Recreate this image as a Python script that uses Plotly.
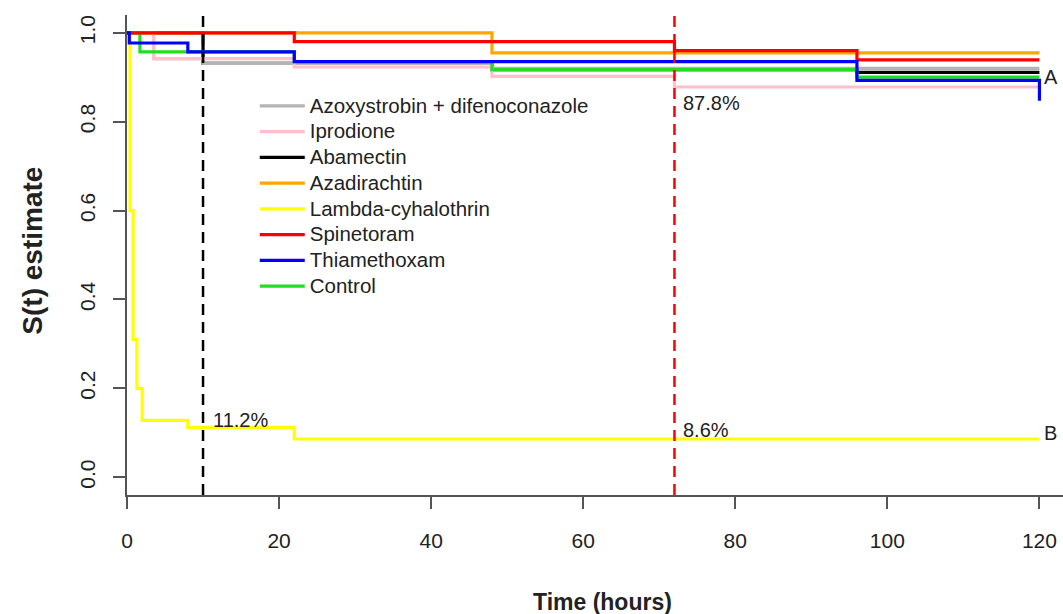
import plotly.graph_objects as go

# ---- data ----
treatments = ["Azoxystrobin + difenoconazole", "Iprodione", "Abamectin", "Azadirachtin",
              "Lambda-cyhalothrin", "Spinetoram", "Thiamethoxam", "Control"]
colors = ["#b4b4b4", "#ffc0cb", "#000000", "#ffa500", "#ffff00", "#ff0000", "#0000ff", "#22dd22"]

azoxy_t = [0, 3.5, 10, 48, 120]
azoxy_s = [1.0, 0.942, 0.931, 0.920, 0.920]
iprod_t = [0, 3.5, 22, 48, 72, 120]
iprod_s = [1.0, 0.942, 0.923, 0.902, 0.878, 0.878]
abam_t = [0, 10, 48, 96, 120]
abam_s = [1.0, 0.931, 0.917, 0.911, 0.911]
azad_t = [0, 48, 120]
azad_s = [1.0, 0.955, 0.955]
lambda_t = [0, 0.4, 0.8, 1.3, 2, 8, 22, 120]
lambda_s = [1.0, 0.60, 0.31, 0.20, 0.128, 0.112, 0.086, 0.086]
spine_t = [0, 22, 72, 96, 120]
spine_s = [1.0, 0.980, 0.960, 0.939, 0.939]
thia_t = [0, 0.3, 8, 22, 96, 120]
thia_s = [1.0, 0.977, 0.957, 0.935, 0.893, 0.847]
ctrl_t = [0, 1.7, 22, 48, 96, 120]
ctrl_s = [1.0, 0.957, 0.935, 0.917, 0.900, 0.900]

series = [(azoxy_t, azoxy_s), (iprod_t, iprod_s), (abam_t, abam_s), (azad_t, azad_s),
          (lambda_t, lambda_s), (spine_t, spine_s), (thia_t, thia_s), (ctrl_t, ctrl_s)]

# drawing order (bottom to top), legend order kept by legendrank
draw_order = [2, 0, 1, 3, 4, 7, 5, 6]

ref_times = [10, 72]
ref_colors = ["#000000", "#ff0000"]

pct_labels = ["11.2%", "8.6%", "87.8%"]
pct_x = [11.0, 72.9, 72.9]
pct_y = [0.128, 0.106, 0.842]

group_labels = ["A", "B"]
group_y = [0.90, 0.100]

x_ticks = [0, 20, 40, 60, 80, 100, 120]
y_ticks = [0.0, 0.2, 0.4, 0.6, 0.8, 1.0]

TXT = "#222222"
FONT = "Liberation Sans, Arial, sans-serif"

fig = go.Figure()
for i in draw_order:
    t, s = series[i]
    fig.add_trace(go.Scatter(
        x=t, y=s, mode="lines", legendrank=i + 1,
        name=f'<span style="font-size:20.5px">{treatments[i]}</span>',
        line=dict(shape="hv", color=colors[i], width=3.2),
    ))

for t, c in zip(ref_times, ref_colors):
    fig.add_shape(type="line", xref="x", yref="paper", x0=t, x1=t, y0=0, y1=1,
                  line=dict(color=c, width=2.5, dash="11px,7px"), layer="above")

for lab, x, y in zip(pct_labels, pct_x, pct_y):
    fig.add_annotation(x=x, y=y, text=lab, showarrow=False, xanchor="left", yanchor="middle",
                       font=dict(size=20, color=TXT, family=FONT))

for lab, y in zip(group_labels, group_y):
    fig.add_annotation(x=120.3, y=y, text=lab, showarrow=False, xanchor="left", yanchor="middle",
                       font=dict(size=20, color=TXT, family=FONT))

fig.add_annotation(xref="paper", yref="paper", x=0.508, y=-0.222, text="<b>Time (hours)</b>",
                   showarrow=False, xanchor="center", yanchor="middle",
                   font=dict(size=23, color=TXT, family=FONT))
fig.add_annotation(xref="paper", yref="paper", x=-0.101, y=0.51, text="<b>S(t) estimate</b>",
                   showarrow=False, xanchor="center", yanchor="middle", textangle=-90,
                   font=dict(size=28, color=TXT, family=FONT))

fig.update_layout(
    width=1063, height=614,
    margin=dict(l=127, r=0, t=15, b=119, pad=0),
    plot_bgcolor="white", paper_bgcolor="white",
    font=dict(family=FONT, color=TXT, size=18),
    showlegend=True,
    legend=dict(x=0.1365, y=0.848, xanchor="left", yanchor="top", bgcolor="rgba(0,0,0,0)",
                borderwidth=0, itemwidth=45, tracegroupgap=0,
                font=dict(size=17.5, color=TXT, family=FONT)),
    xaxis=dict(range=[0, 123.1], tickvals=x_ticks, ticks="outside", ticklen=12, tickwidth=1.5,
               tickcolor="#555555", showline=True, linecolor="#555555", linewidth=1.5,
               showgrid=False, zeroline=False, tickfont=dict(size=21, color=TXT),
               ticklabelstandoff=14),
    yaxis=dict(range=[-0.04, 1.04], tickvals=y_ticks, ticktext=[f"{v:.1f}" for v in y_ticks],
               ticks="outside", ticklen=12, tickwidth=1.5, tickangle=-90,
               tickcolor="#555555", showline=True, linecolor="#555555", linewidth=1.5,
               showgrid=False, zeroline=False, tickfont=dict(size=21, color=TXT),
               ticklabelstandoff=10),
)

fig.write_html("out.html", config={"displayModeBar": False},
               post_script="document.body.style.margin='0';")
